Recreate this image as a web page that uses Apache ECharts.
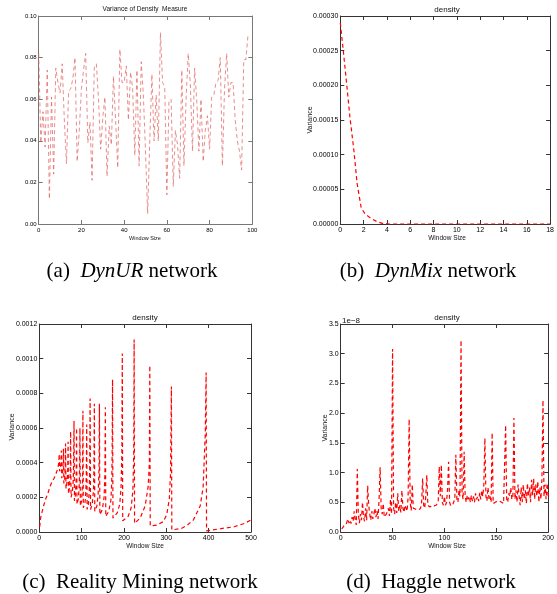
<!DOCTYPE html>
<html>
<head>
<meta charset="utf-8">
<script src="https://cdn.jsdelivr.net/npm/echarts@6/dist/echarts.min.js"></script>
<style>
  html, body { margin: 0; padding: 0; background: #fff; }
  #chart { width: 557px; height: 594px; }
</style>
</head>
<body>
<div id="chart"></div>
<script>
// (a) DynUR: variance per window size 0..98
const aVar = [
  0.082, 0.039, 0.054, 0.037, 0.074, 0.012, 0.061, 0.024, 0.075, 0.068,
  0.063, 0.077, 0.050, 0.029, 0.064, 0.065, 0.070, 0.080, 0.030, 0.045,
  0.065, 0.074, 0.082, 0.039, 0.049, 0.021, 0.075, 0.077, 0.060, 0.036,
  0.051, 0.061, 0.023, 0.047, 0.038, 0.071, 0.050, 0.027, 0.084, 0.068,
  0.068, 0.076, 0.050, 0.073, 0.065, 0.033, 0.074, 0.028, 0.078, 0.062,
  0.035, 0.005, 0.040, 0.072, 0.040, 0.062, 0.040, 0.092, 0.068, 0.066,
  0.014, 0.059, 0.060, 0.018, 0.045, 0.038, 0.022, 0.074, 0.028, 0.060,
  0.082, 0.067, 0.035, 0.075, 0.059, 0.035, 0.060, 0.030, 0.045, 0.052,
  0.036, 0.061, 0.062, 0.068, 0.069, 0.080, 0.028, 0.065, 0.082, 0.061,
  0.068, 0.068, 0.050, 0.040, 0.035, 0.026, 0.079, 0.079, 0.091
];

// (b) DynMix
const bWin = [0, 0.25, 0.54, 0.82, 1.16, 1.44, 1.8, 2.1, 2.5, 3.1, 3.6, 4.2, 6, 8, 10, 12, 14, 16, 18];
const bVar = [0.00029, 0.000251, 0.000203, 0.000155, 0.000107, 0.0000587, 0.0000226, 0.0000154,
  0.0000096, 0.0000038, 0.000001, 0, 0, 0, 0, 0, 0, 0, 0];

// (c) Reality Mining: [window size, variance]
const cPts = [
  [1,0.00003],[3,0.00008],[6,0.00011],[10,0.00015],[15,0.00019],[20,0.00022],[25,0.00026],
  [30,0.00029],[35,0.00031],[40,0.00034],[44,0.00037],[46,0.0004],[47,0.00045],
  [48,0.00035],[50,0.00037],[51,0.0004],[52,0.00047],
  [53,0.00031],[55,0.00034],[56,0.00039],[57,0.00048],
  [58,0.00028],[60,0.00031],[61,0.00037],[62,0.00051],
  [63,0.00025],[65,0.00028],[67,0.00035],[68,0.00052],
  [69,0.00022],[71,0.00025],[73,0.00033],[74,0.00058],
  [75,0.0002],[78,0.00023],[80,0.00029],[81,0.00038],[82,0.00064],
  [83,0.00018],[85,0.00021],[87,0.0003],[88,0.0006],
  [89,0.00016],[92,0.00019],[94,0.00025],[95,0.00034],[96,0.0006],
  [97,0.00015],[100,0.00018],[102,0.00028],[103,0.0007],
  [104,0.00014],[108,0.00017],[110,0.00024],[111,0.00034],[112,0.00062],
  [113,0.00013],[116,0.00016],[118,0.00024],[119,0.00036],[120,0.00077],
  [121,0.00013],[125,0.00016],[128,0.00024],[129,0.00036],[130,0.00074],
  [131,0.00012],[136,0.00015],[139,0.00022],[141,0.00036],[142,0.00074],
  [143,0.0001],[149,0.00013],[153,0.0002],[155,0.00034],[156,0.00072],
  [157,0.00009],[164,0.00012],[169,0.00018],[171,0.00028],[172,0.00044],[173,0.00088],
  [174,0.00008],[184,0.00011],[190,0.00016],[193,0.00025],[195,0.00045],[196,0.00103],
  [197,0.000065],[210,0.00009],[217,0.00014],[221,0.00024],[223,0.00045],[224,0.00111],
  [225,0.00005],[238,0.00008],[250,0.00015],[257,0.00026],[260,0.0004],[261,0.00096],
  [262,0.000035],[277,0.00004],[293,0.00006],[301,0.0001],[307,0.00019],[310,0.00034],[312,0.00084],
  [313,0.000012],[335,0.00002],[350,0.00004],[364,0.00007],[380,0.00015],[387,0.00026],[392,0.00057],[394,0.00092],
  [395,0.000006],[430,0.00002],[460,0.00003],[485,0.00005],[500,0.00007]
];

// (d) Haggle: [window size, variance in units of 1e-8]
const dPts = [
  [1,0.05],[3,0.1],[5,0.12],[7,0.22],[8,0.15],[9,0.2],[10,0.14],[11,0.25],[12,0.18],[13,0.35],
  [14,0.2],[15,0.12],[16,1.06],[17,0.3],[18,0.15],[19,0.3],[20,0.2],[21,0.5],[22,0.25],[23,0.18],
  [24,0.4],[25,0.2],[26,0.78],[27,0.45],[28,0.3],[29,0.2],[30,0.35],[31,0.22],[32,0.3],[33,0.4],
  [34,0.25],[35,0.35],[36,0.22],[37,0.55],[38,1.09],[39,0.4],[40,0.3],[41,0.48],[42,0.25],[44,0.3],
  [46,0.4],[47,0.27],[48,0.55],[49,0.3],[50,3.08],[51,0.4],[52,0.3],[53,0.5],[54,0.32],[55,0.65],
  [56,0.35],[57,0.45],[58,0.33],[59,0.7],[60,0.4],[61,0.33],[62,0.45],[64,0.35],[65,0.6],[66,1.9],
  [67,0.5],[68,0.36],[69,0.8],[70,0.4],[71,0.37],[73,0.38],[75,0.37],[77,0.4],[78,0.5],[79,0.9],
  [80,0.45],[81,0.4],[82,0.6],[83,0.96],[84,0.45],[86,0.42],[88,0.45],[90,0.44],[92,0.45],[94,0.5],
  [95,1.1],[96,0.6],[97,1.13],[98,0.5],[99,0.45],[100,0.6],[101,0.45],[102,0.5],[103,0.7],[104,1.18],
  [105,0.5],[106,0.44],[108,0.46],[110,0.55],[111,1.3],[112,0.55],[113,0.5],[114,0.7],[115,0.6],[116,3.23],
  [117,0.65],[118,0.55],[119,1.35],[120,0.6],[121,0.5],[122,0.62],[123,0.55],[124,0.6],[125,0.5],[126,0.62],
  [127,0.52],[128,0.6],[129,0.5],[130,0.65],[131,0.55],[132,0.6],[133,0.52],[134,0.66],[135,0.55],[136,0.7],
  [137,0.6],[138,0.8],[139,1.58],[140,0.6],[141,0.52],[142,0.75],[143,0.55],[144,0.6],[145,0.5],[146,1.67],
  [147,0.48],[149,0.5],[151,0.52],[153,0.52],[155,0.5],[157,0.48],[158,0.46],[159,1.8],[160,0.55],[161,0.5],
  [162,0.65],[163,0.6],[164,0.75],[165,0.55],[166,0.6],[167,1.92],[168,0.55],[169,0.7],[170,0.5],[171,0.8],
  [172,0.6],[173,0.45],[174,0.75],[175,0.5],[176,0.8],[177,0.55],[178,0.7],[179,0.48],[180,0.82],[181,0.6],
  [182,0.75],[183,0.5],[184,0.88],[185,0.62],[186,0.9],[187,0.55],[188,0.8],[189,0.6],[190,0.85],[191,0.5],
  [192,0.75],[193,0.55],[194,0.9],[195,2.22],[196,0.6],[197,0.8],[198,0.55],[199,0.82],[200,0.6]
];

const font = "'Liberation Sans',Arial,sans-serif";
const serif = "'Liberation Serif','DejaVu Serif',serif";

// left, top, width, height of each plot box
const boxes = [
  [38.7, 16, 213.6, 208],
  [340.3, 16, 212.4, 208],
  [39.3, 324, 211.7, 208],
  [340.7, 324, 212, 208]
];
const xRange = [[0, 100, 20], [0, 18, 2], [0, 500, 100], [0, 200, 50]];
const yRange = [[0, 0.1, 0.02, 2], [0, 0.0003, 0.00005, 5], [0, 0.0012, 0.0002, 4], [0, 3.5, 0.5, 1]];
const spine = ['#777', '#333', '#333', '#333'];
const tickSize = [6, 7, 7, 7];

const grid = [], xAxis = [], yAxis = [];
boxes.forEach((b, i) => {
  grid.push({ left: b[0], top: b[1], width: b[2], height: b[3] });
  const line = { onZero: false, lineStyle: { color: spine[i], width: 1 } };
  const tick = { inside: true, length: 4, lineStyle: { color: spine[i] } };
  const lab = { color: '#000', fontSize: tickSize[i], fontFamily: font };
  ['bottom', 'top'].forEach(pos => {
    xAxis.push({
      gridIndex: i, type: 'value', position: pos,
      min: xRange[i][0], max: xRange[i][1], interval: xRange[i][2],
      axisLine: line, axisTick: tick, splitLine: { show: false },
      axisLabel: Object.assign({ show: pos === 'bottom', margin: 3 }, lab)
    });
  });
  ['left', 'right'].forEach(pos => {
    yAxis.push({
      gridIndex: i, type: 'value', position: pos,
      min: yRange[i][0], max: yRange[i][1], interval: yRange[i][2],
      axisLine: line, axisTick: tick, splitLine: { show: false },
      axisLabel: Object.assign({
        show: pos === 'left', margin: 2,
        formatter: v => v.toFixed(yRange[i][3])
      }, lab)
    });
  });
});

const dash = [4, 3];
const series = [
  {
    type: 'line', xAxisIndex: 0, yAxisIndex: 0, showSymbol: false, animation: false,
    data: aVar.map((v, k) => [k, v]),
    lineStyle: { color: '#e06060', width: 0.9, type: dash, opacity: 0.8 }
  },
  {
    type: 'line', xAxisIndex: 2, yAxisIndex: 2, showSymbol: false, animation: false,
    data: bWin.map((w, k) => [w, bVar[k]]),
    lineStyle: { color: '#f00', width: 1.2, type: dash }
  },
  {
    type: 'line', xAxisIndex: 4, yAxisIndex: 4, showSymbol: false, animation: false,
    data: cPts,
    lineStyle: { color: '#f00', width: 1.2, type: dash }
  },
  {
    type: 'line', xAxisIndex: 6, yAxisIndex: 6, showSymbol: false, animation: false,
    data: dPts,
    lineStyle: { color: '#f00', width: 1.2, type: dash }
  }
];

function label(x, y, text, size, rot) {
  return {
    type: 'text', x: x, y: y, rotation: rot || 0,
    style: { text: text, font: size + 'px ' + font, fill: '#111', align: 'center', verticalAlign: 'middle' }
  };
}
function caption(x, y, pre, it, post) {
  return {
    type: 'text', x: x, y: y,
    style: {
      text: '{n|' + pre + '}{i|' + it + '}{n|' + post + '}',
      align: 'center', verticalAlign: 'middle',
      rich: {
        n: { fontFamily: serif, fontSize: 21, fill: '#000' },
        i: { fontFamily: serif, fontSize: 21, fontStyle: 'italic', fill: '#000' }
      }
    }
  };
}

const graphic = [
  label(145, 9, 'Variance of Density  Measure', 6.5),
  label(447, 10, 'density', 8),
  label(145, 318, 'density', 8),
  label(447, 318, 'density', 8),
  label(145, 238, 'Window Size', 5.5),
  label(447, 238, 'Window Size', 6.5),
  label(145, 546, 'Window Size', 6.5),
  label(447, 546, 'Window Size', 6.5),
  label(310, 120, 'Variance', 7, Math.PI / 2),
  label(12, 427, 'Variance', 7, Math.PI / 2),
  label(325.5, 428, 'Variance', 7, Math.PI / 2),
  {
    type: 'text', x: 342, y: 321,
    style: { text: '1e\u22128', font: '8px ' + font, fill: '#111', align: 'left', verticalAlign: 'middle' }
  },
  caption(132, 271, '(a)  ', 'DynUR', ' network'),
  caption(428, 271, '(b)  ', 'DynMix', ' network'),
  caption(140, 582, '(c)  Reality Mining network', '', ''),
  caption(431, 582, '(d)  Haggle network', '', '')
];

const chart = echarts.init(document.getElementById('chart'));
chart.setOption({
  animation: false,
  backgroundColor: '#fff',
  grid: grid,
  xAxis: xAxis,
  yAxis: yAxis,
  series: series,
  graphic: graphic
});
</script>
</body>
</html>
